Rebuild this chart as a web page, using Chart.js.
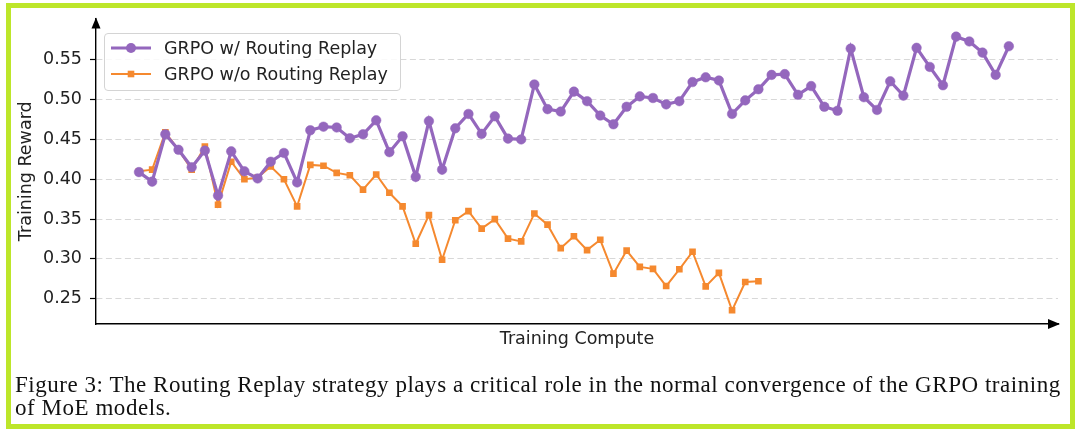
<!DOCTYPE html>
<html lang="en">
<head>
  <meta charset="UTF-8" />
  <title>Routing Replay training reward</title>
  <script src="https://cdn.jsdelivr.net/npm/chart.js"></script>
  <style>
    html, body {
      margin: 0;
      padding: 0;
      background: #fff;
      width: 1080px;
      height: 434px;
      overflow: hidden;
    }
    .frame {
      position: absolute;
      left: 6px;
      top: 3px;
      width: 1069px;
      height: 425.5px;
      box-sizing: border-box;
      border: 5px solid #bde62a;
    }
    #chart {
      position: absolute;
      left: 0;
      top: 0;
    }
    .legend {
      position: absolute;
      left: 104px;
      top: 33px;
      width: 297px;
      height: 58px;
      box-sizing: border-box;
      border: 1px solid #d4d4d4;
      border-radius: 4px;
      background: rgba(255,255,255,0.85);
      font-family: "DejaVu Sans", sans-serif;
      font-size: 17.5px;
      color: #222;
    }
    .legend .row {
      position: absolute;
      left: 5px;
      height: 26px;
      display: flex;
      align-items: center;
    }
    .legend svg {
      width: 42px;
      height: 26px;
      margin-right: 12px;
    }
    .caption {
      position: absolute;
      left: 15px;
      top: 374px;
      font-family: "Liberation Serif", serif;
      font-size: 23px;
      line-height: 22.7px;
      color: #111;
      white-space: nowrap;
    }
    .caption span {
      display: block;
    }
  </style>
</head>
<body>

<div class="frame"></div>
<canvas id="chart" width="1080" height="434"></canvas>
<div class="legend" id="legend"></div>
<div class="caption" id="caption"><span>Figure 3: The Routing Replay strategy plays a critical role in the normal convergence of the GRPO training</span><span>of MoE models.</span></div>

<script>
  const seriesNames = ['GRPO w/ Routing Replay', 'GRPO w/o Routing Replay'];
  const seriesColors = ['#9467bd', '#f5892f'];

  const withReplay = [
    0.409, 0.397, 0.4565, 0.437, 0.415, 0.436, 0.3795, 0.435, 0.410, 0.401,
    0.422, 0.433, 0.396, 0.4615, 0.466, 0.465, 0.4515, 0.4565, 0.474, 0.434,
    0.454, 0.403, 0.473, 0.412, 0.464, 0.482, 0.457, 0.479, 0.451, 0.450,
    0.519, 0.488, 0.485, 0.510, 0.498, 0.480, 0.469, 0.491, 0.504, 0.502,
    0.494, 0.498, 0.522, 0.528, 0.524, 0.482, 0.499, 0.513, 0.531, 0.532,
    0.506, 0.517, 0.491, 0.486, 0.564, 0.503, 0.487, 0.523, 0.505, 0.565,
    0.541, 0.518, 0.579, 0.573, 0.559, 0.531, 0.567
  ];
  const withoutReplay = [
    0.410, 0.412, 0.459, 0.437, 0.412, 0.441, 0.368, 0.422, 0.400, 0.402,
    0.416, 0.400, 0.366, 0.418, 0.417, 0.408, 0.405, 0.387, 0.406, 0.383,
    0.366, 0.319, 0.355, 0.299, 0.3485, 0.360, 0.338, 0.350, 0.3255, 0.322,
    0.357, 0.343, 0.3135, 0.3285, 0.311, 0.324, 0.2815, 0.3105, 0.290, 0.2875,
    0.266, 0.287, 0.309, 0.2655, 0.2825, 0.2355, 0.271, 0.272
  ];

  const yTicks = [0.25, 0.30, 0.35, 0.40, 0.45, 0.50, 0.55];

  function toPoints(values) {
    return values.map((v, i) => ({ x: i, y: v }));
  }

  // black arrow heads at the ends of both axes
  const axisArrows = {
    id: 'axisArrows',
    afterDraw(chart) {
      const { ctx, chartArea: a } = chart;
      ctx.save();
      ctx.fillStyle = '#000';
      ctx.beginPath();
      ctx.moveTo(a.left, a.top - 1);
      ctx.lineTo(a.left - 4.5, a.top + 10);
      ctx.lineTo(a.left + 4.5, a.top + 10);
      ctx.closePath();
      ctx.fill();
      ctx.beginPath();
      ctx.moveTo(a.right + 2, a.bottom);
      ctx.lineTo(a.right - 10, a.bottom - 5);
      ctx.lineTo(a.right - 10, a.bottom + 5);
      ctx.closePath();
      ctx.fill();
      ctx.restore();
    }
  };

  const chart = new Chart(document.getElementById('chart'), {
    type: 'line',
    data: {
      datasets: [
        {
          label: seriesNames[0],
          data: toPoints(withReplay),
          borderColor: seriesColors[0],
          backgroundColor: seriesColors[0],
          borderWidth: 3.2,
          pointStyle: 'circle',
          pointRadius: 4.8,
          pointBorderWidth: 0.5,
          tension: 0
        },
        {
          label: seriesNames[1],
          data: toPoints(withoutReplay),
          borderColor: seriesColors[1],
          backgroundColor: seriesColors[1],
          borderWidth: 2,
          pointStyle: 'rect',
          pointRadius: 4.7,
          pointBorderWidth: 0,
          tension: 0
        }
      ]
    },
    options: {
      responsive: false,
      animation: false,
      layout: { padding: { left: 16, top: 18, right: 22, bottom: 84.5 } },
      plugins: {
        legend: { display: false },
        tooltip: { enabled: false }
      },
      scales: {
        x: {
          type: 'linear',
          min: -3.26,
          max: 69.73,
          grid: { display: false },
          border: { display: true, color: '#000', width: 1.4 },
          ticks: { display: false },
          title: {
            display: true,
            text: 'Training Compute',
            color: '#222',
            padding: 0,
            font: { family: 'DejaVu Sans', size: 17.5, lineHeight: 1.2 }
          },
          afterFit(scale) { scale.height = 25.5; }
        },
        y: {
          min: 0.2183,
          max: 0.6018,
          afterBuildTicks(scale) {
            scale.ticks = yTicks.map(v => ({ value: v }));
          },
          grid: {
            color: '#d8d8d8',
            lineWidth: 1,
            tickColor: '#000',
            tickBorderDash: [],
            tickWidth: 1.2,
            tickLength: 6
          },
          border: { display: true, color: '#000', width: 1.4, dash: [6, 3.5] },
          ticks: {
            color: '#222',
            padding: 8,
            font: { family: 'DejaVu Sans', size: 17.5 },
            callback: v => v.toFixed(2)
          },
          title: {
            display: true,
            text: 'Training Reward',
            color: '#222',
            padding: 0,
            font: { family: 'DejaVu Sans', size: 17.5, lineHeight: 1.2 }
          },
          afterFit(scale) { scale.width = 80; }
        }
      }
    },
    plugins: [axisArrows]
  });

  // legend box drawn as html from the datasets
  const legendBox = document.getElementById('legend');
  chart.data.datasets.forEach((ds, i) => {
    const row = document.createElement('div');
    row.className = 'row';
    row.style.top = (1 + i * 26) + 'px';
    const marker = ds.pointStyle === 'rect'
      ? `<rect x="17.7" y="9.7" width="6.6" height="6.6" fill="${ds.borderColor}"/>`
      : `<circle cx="21" cy="13" r="5" fill="${ds.borderColor}"/>`;
    row.innerHTML =
      `<svg viewBox="0 0 42 26"><line x1="1" y1="13" x2="41" y2="13" stroke="${ds.borderColor}" stroke-width="${ds.borderWidth}"/>${marker}</svg>` +
      `<span>${ds.label}</span>`;
    legendBox.appendChild(row);
  });

  // stretch the caption so its first line spans the frame like the serif original
  const captionLines = document.querySelectorAll('#caption span');
  const firstLine = captionLines[0];
  const range = document.createRange();
  range.selectNodeContents(firstLine);
  const textWidth = range.getBoundingClientRect().width;
  const spacing = (1046 - textWidth) / firstLine.textContent.length;
  document.getElementById('caption').style.letterSpacing = spacing.toFixed(2) + 'px';
</script>

</body>
</html>
